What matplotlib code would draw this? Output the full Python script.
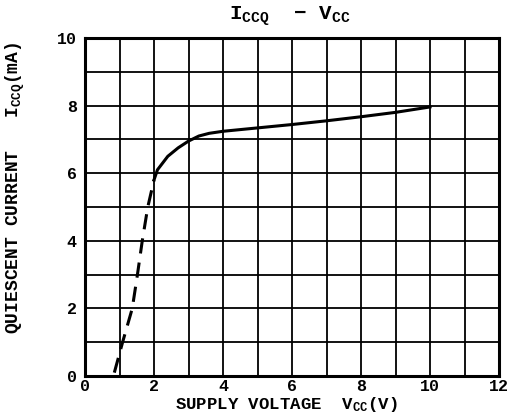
import matplotlib
matplotlib.use("Agg")
import matplotlib.pyplot as plt
import numpy as np

plt.rcParams['font.family'] = ['Liberation Mono', 'DejaVu Sans Mono']
plt.rcParams['font.weight'] = 'bold'
plt.rcParams['mathtext.fontset'] = 'custom'
plt.rcParams['mathtext.rm'] = 'Liberation Mono:bold'
plt.rcParams['mathtext.it'] = 'Liberation Mono:bold'
plt.rcParams['mathtext.bf'] = 'Liberation Mono:bold'

# Dashed (low-voltage) portion
vcc_dashed = [0.85, 1.09, 1.37, 1.52, 1.66, 1.82, 2.0]
icc_dashed = [0.1, 1.0, 2.0, 3.0, 4.0, 5.0, 5.8]
# Solid portion
vcc_solid = [2.0, 2.1, 2.4, 2.7, 3.0, 3.3, 3.6, 4.0, 5.0, 6.0, 7.0, 8.0, 9.0, 10.0]
icc_solid = [5.8, 6.1, 6.5, 6.75, 6.95, 7.1, 7.18, 7.24, 7.34, 7.44, 7.55, 7.67, 7.8, 7.96]

x_ticks = [0, 2, 4, 6, 8, 10, 12]
y_ticks = [0, 2, 4, 6, 8, 10]

fig = plt.figure(figsize=(5.11, 4.15), dpi=100)
ax = fig.add_axes([85/511, 1-376/415, (499-85)/511, (376-38)/415])

ax.plot(vcc_dashed, icc_dashed, color='black', lw=2.2, ls=(0, (5, 3)))
ax.plot(vcc_solid, icc_solid, color='black', lw=2.2)

ax.set_xlim(0, 12)
ax.set_ylim(0, 10)
ax.set_xticks(x_ticks)
ax.set_yticks(y_ticks)
ax.set_xticks(np.arange(0, 13, 1), minor=True)
ax.set_yticks(np.arange(0, 11, 1), minor=True)
ax.grid(which='both', color='black', lw=1.3)
ax.tick_params(which='both', length=0, labelsize=12)
ax.tick_params(axis='x', pad=2)
ax.tick_params(axis='y', pad=6)
for s in ax.spines.values():
    s.set_linewidth(2.2)

fig.text(290/511, 1-16/415, r'I$_{\rm CCQ}$  $-$ V$_{\rm CC}$', ha='center', va='center', fontsize=15)
fig.text(286/511, 1-414/415, r'SUPPLY VOLTAGE  V$_{\rm CC}$(V)', ha='center', va='bottom', fontsize=12.5)
fig.text(15/511, 1-188/415, r'QUIESCENT CURRENT   I$_{\rm CCQ}$(mA)', ha='center', va='center', fontsize=13, rotation=90)

fig.savefig('out.png', dpi=100)
